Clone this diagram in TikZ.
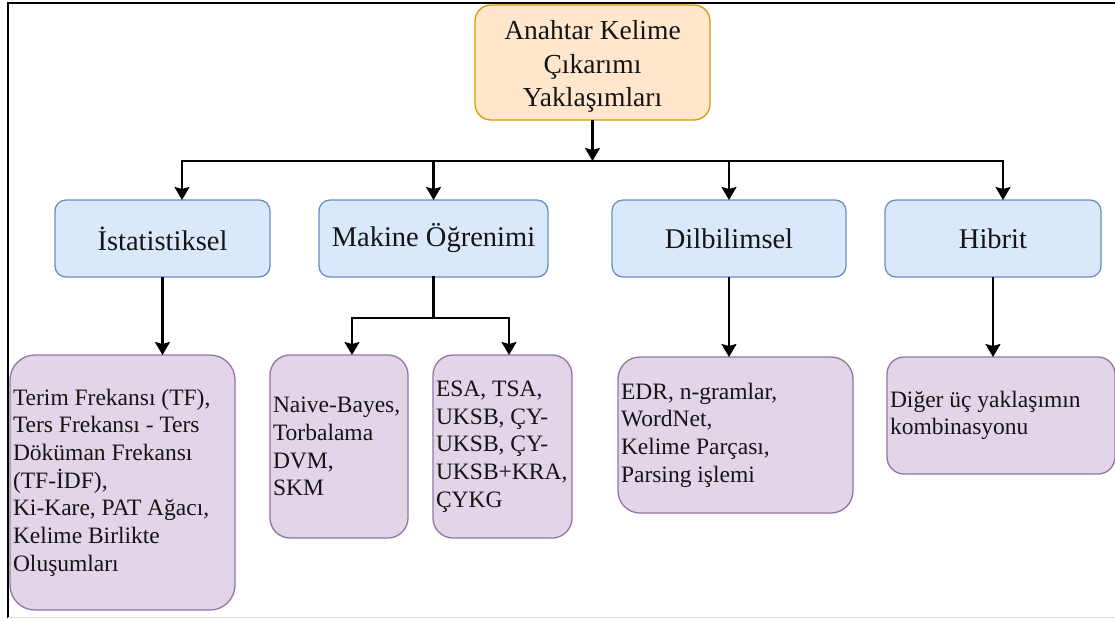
\documentclass[tikz,border=0pt]{standalone}
\usepackage{fontspec}
\setmainfont{Liberation Serif}
\usetikzlibrary{arrows.meta}
\definecolor{orfill}{HTML}{FFE6CC}
\definecolor{ordraw}{HTML}{D79B00}
\definecolor{blfill}{HTML}{DAE8FC}
\definecolor{bldraw}{HTML}{6C8EBF}
\definecolor{pufill}{HTML}{E1D5E7}
\definecolor{pudraw}{HTML}{9673A6}
\definecolor{txt}{HTML}{141414}

\tikzset{
  box/.style={draw, line width=1.3pt, inner sep=0pt, outer sep=0pt, text=txt},
  rootbox/.style={box, fill=orfill, draw=ordraw, rounded corners=16pt,
    minimum width=235pt, minimum height=115pt, align=center,
    font=\fontsize{27.5}{33.5}\selectfont},
  catbox/.style={box, fill=blfill, draw=bldraw, rounded corners=11pt,
    minimum height=77pt, font=\fontsize{28.5}{33}\selectfont},
  leafbox/.style={box, fill=pufill, draw=pudraw, align=flush left,
    inner xsep=3pt, inner ysep=0pt, font=\fontsize{23.5}{27.7}\selectfont},
  arr/.style={line width=2.2pt, -{Stealth[length=13pt,width=15pt,inset=2pt]}},
  wire/.style={line width=2.2pt, line cap=rect},
}

\begin{document}
\begin{tikzpicture}[x=1pt,y=-1pt]
\useasboundingbox (0,0) rectangle (1115,618);
\fill[white] (0,0) rectangle (1115,618);

% outer frame
\draw[line width=2pt] (8,618) -- (8,3) -- (1115,3);
\draw[black!15, line width=1pt] (8,617) -- (1115,617);

% root
\node[rootbox] (root) at (592.5,62.5) {};
\node[text=txt, align=center, font=\fontsize{27.5}{33.5}\selectfont, inner sep=0pt]
  (roottext) at ([yshift=-4pt]root.center) {Anahtar Kelime\\Çıkarımı\\Yaklaşımları};

% categories
\node[catbox, minimum width=215pt] (stat) at (162.5,238.5) {İstatistiksel};
\node[catbox, minimum width=229pt] (mak)  at (433.5,238.5) {Makine Öğrenimi};
\node[catbox, minimum width=234pt] (dil)  at (729,238.5)   {Dilbilimsel};
\node[catbox, minimum width=216pt] (hib)  at (993,238.5)   {Hibrit};

% leaves
\node[leafbox, rounded corners=25pt, text width=219pt, minimum height=255pt] (p1) at (122.5,482.5)
  {Terim Frekansı (TF),\\Ters Frekansı - Ters\\Döküman Frekansı\\(TF-İDF),\\Ki-Kare, PAT Ağacı,\\Kelime Birlikte\\Oluşumları};
\node[leafbox, rounded corners=20pt, text width=132pt, minimum height=183pt] (p2) at (339,446.5)
  {Naive-Bayes,\\Torbalama\\DVM,\\SKM};
\node[leafbox, rounded corners=20pt, text width=133pt, minimum height=183pt] (p3) at (502.5,446.5)
  {ESA, TSA,\\UKSB, ÇY-\\UKSB, ÇY-\\UKSB+KRA,\\ÇYKG};
\node[leafbox, rounded corners=22pt, text width=229pt, minimum height=156pt] (p4) at (735.5,435)
  {EDR, n-gramlar,\\WordNet,\\Kelime Parçası,\\Parsing işlemi};
\node[leafbox, rounded corners=17pt, text width=222pt, minimum height=117pt] (p5) at (1001,415.5)
  {Diğer üç yaklaşımın\\kombinasyonu};

% top distribution bus
\coordinate (busL) at (182,161);
\coordinate (busR) at (1003,161);
\draw[arr] (root.south) -- (root.south |- busL);
\draw[wire] (busL) -- (busR);
\draw[arr] (busL) -- (busL |- stat.north);
\draw[arr] (mak.north |- busL) -- (mak.north);
\draw[arr] (dil.north |- busL) -- (dil.north);
\draw[arr] (busR) -- (busR |- hib.north);

% category to leaves
\draw[arr] (stat.south) -- (stat.south |- p1.north);
\coordinate (mkl) at (352,318);
\coordinate (mkr) at (509,318);
\draw[wire] (mak.south) -- (mak.south |- mkl);
\draw[wire] (mkl) -- (mkr);
\draw[arr] (mkl) -- (mkl |- p2.north);
\draw[arr] (mkr) -- (mkr |- p3.north);
\draw[arr] (dil.south) -- (dil.south |- p4.north);
\draw[arr] (hib.south) -- (hib.south |- p5.north);
\end{tikzpicture}
\end{document}
